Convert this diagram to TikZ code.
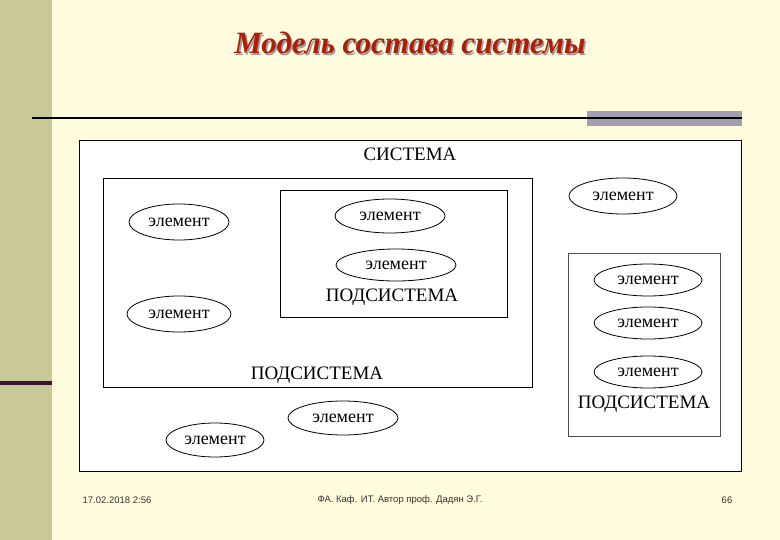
\documentclass[tikz,border=0pt]{standalone}
\usepackage{fontspec}
\usetikzlibrary{shapes.geometric}
\setmainfont{Liberation Serif}
\newfontfamily\footfont{Liberation Sans}
\begin{document}
\begin{tikzpicture}[x=1pt,y=-1pt,
  el/.style={draw,thick,ellipse,minimum width=#1,minimum height=34pt,inner sep=0pt,font=\fontsize{18}{18}\selectfont},
  lbl/.style={font=\fontsize{19}{19}\selectfont},
  ft/.style={font=\footfont\fontsize{9.5}{9.5}\selectfont,text=black!80}]
\fill[fill={rgb,255:red,255;green,253;blue,222}] (0,0) rectangle (780,540);
\useasboundingbox (0,0) rectangle (780,540);
\fill[fill={rgb,255:red,201;green,200;blue,151}] (0,0) rectangle (52,540);
\fill[fill={rgb,255:red,60;green,20;blue,50}] (0,381) rectangle (52,385);
\node[font=\bfseries\itshape\fontsize{31}{31}\selectfont,text=black!40] (tsh) at (411.5,44.5) {Модель состава системы};
\node[font=\bfseries\itshape\fontsize{31}{31}\selectfont,text={rgb,255:red,170;green,30;blue,10}] (title) at (410,43) {Модель состава системы};
\fill[fill={rgb,255:red,160;green,160;blue,176}] (587,111) rectangle (742,126);
\draw[line width=2pt] (32,118) -- (742,118);
\draw[fill=white] (79,140) rectangle (741,471);
\node[lbl] (sys) at (410,154) {СИСТЕМА};
\draw (103,178) rectangle (532,387);
\node[lbl] (p1) at (317,375) {ПОДСИСТЕМА};
\draw (280,190) rectangle (507,317);
\node[lbl] (p2) at (392,297) {ПОДСИСТЕМА};
\draw[draw=black!70] (568,253) rectangle (720,436);
\node[lbl] (p3) at (644,404) {ПОДСИСТЕМА};
\node[el=100pt,minimum height=36pt] (e1) at (179,222) {элемент};
\node[el=104pt,minimum height=36pt] (e2) at (179,314) {элемент};
\node[el=110pt] (e3) at (390,216) {элемент};
\node[el=120pt,minimum height=32pt] (e4) at (396,265) {элемент};
\node[el=108pt,minimum height=36pt] (e5) at (623,196) {элемент};
\node[el=108pt,minimum height=32pt] (e6) at (648,280) {элемент};
\node[el=108pt,minimum height=32pt] (e7) at (648,323) {элемент};
\node[el=108pt,minimum height=32pt] (e8) at (648,372) {элемент};
\node[el=110pt] (e9) at (343,418) {элемент};
\node[el=98pt] (e10) at (215,440) {элемент};
\node[ft] (f1) at (117,500) {17.02.2018 2:56};
\node[ft] (f2) at (400,500) {ФА. Каф. ИТ. Автор проф. Дадян Э.Г.};
\node[ft] (f3) at (727,500) {66};
\end{tikzpicture}
\end{document}
